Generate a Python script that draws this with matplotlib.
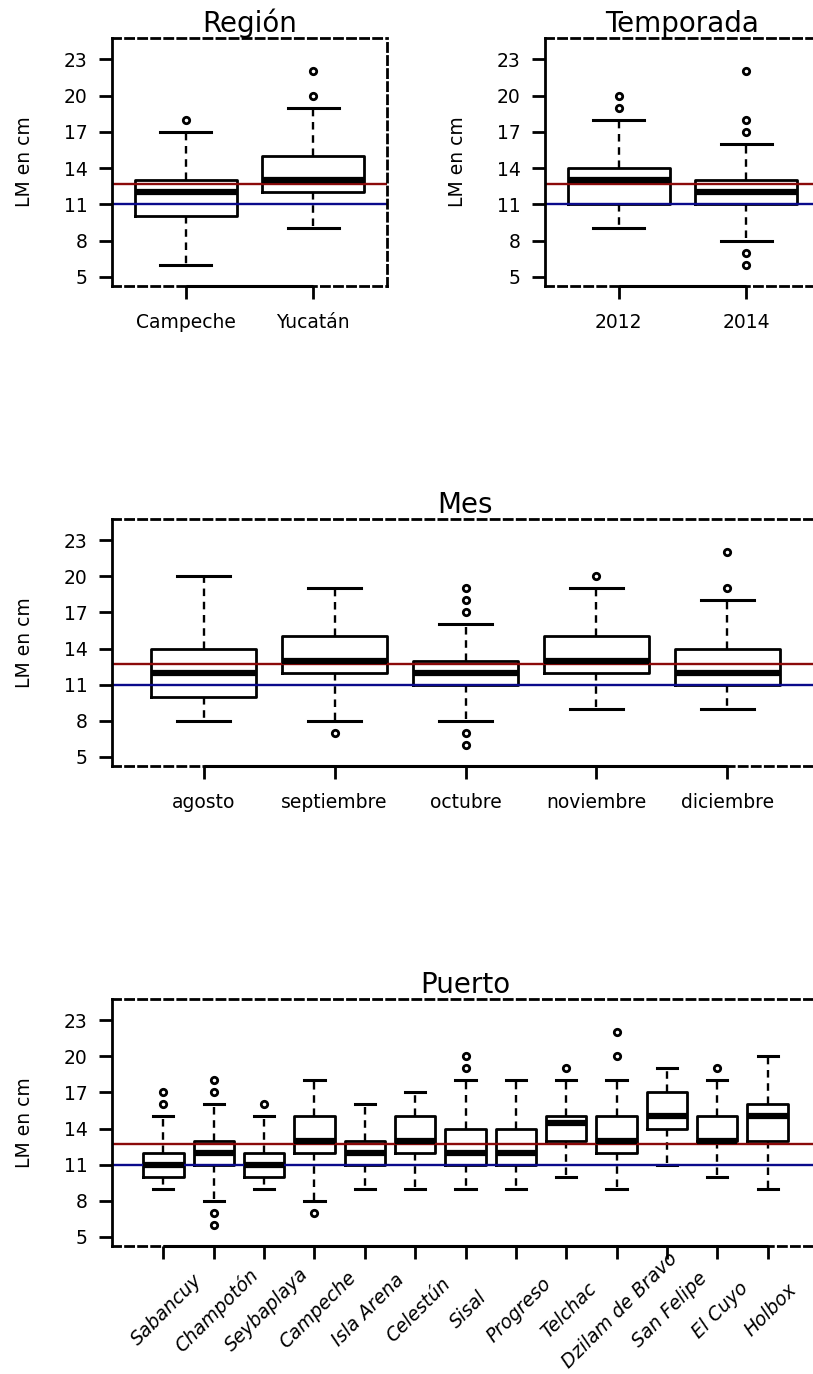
import matplotlib
matplotlib.use('Agg')
import matplotlib.pyplot as plt
import matplotlib.transforms as mtransforms

plt.rcParams['font.family'] = ['DejaVu Sans']

# reference lines (cm)
lm_media = 12.7
lm_minima = 11

region_cats = ['Campeche', 'Yucatán']
region_lo = [6, 9]
region_q1 = [10, 12]
region_med = [12, 13]
region_q3 = [13, 15]
region_hi = [17, 19]
region_out = [[18], [20, 22]]

temp_cats = ['2012', '2014']
temp_lo = [9, 8]
temp_q1 = [11, 11]
temp_med = [13, 12]
temp_q3 = [14, 13]
temp_hi = [18, 16]
temp_out = [[19, 20], [6, 7, 17, 18, 22]]

mes_cats = ['agosto', 'septiembre', 'octubre', 'noviembre', 'diciembre']
mes_lo = [8, 8, 8, 9, 9]
mes_q1 = [10, 12, 11, 12, 11]
mes_med = [12, 13, 12, 13, 12]
mes_q3 = [14, 15, 13, 15, 14]
mes_hi = [20, 19, 16, 19, 18]
mes_out = [[], [7], [6, 7, 17, 18, 19], [20], [19, 22]]

puerto_cats = ['Sabancuy', 'Champotón', 'Seybaplaya', 'Campeche', 'Isla Arena',
               'Celestún', 'Sisal', 'Progreso', 'Telchac', 'Dzilam de Bravo',
               'San Felipe', 'El Cuyo', 'Holbox']
puerto_lo = [9, 8, 9, 8, 9, 9, 9, 9, 10, 9, 11, 10, 9]
puerto_q1 = [10, 11, 10, 12, 11, 12, 11, 11, 13, 12, 14, 13, 13]
puerto_med = [11, 12, 11, 13, 12, 13, 12, 12, 14.5, 13, 15, 13, 15]
puerto_q3 = [12, 13, 12, 15, 13, 15, 14, 14, 15, 15, 17, 15, 16]
puerto_hi = [15, 16, 15, 18, 16, 17, 18, 18, 18, 18, 19, 18, 20]
puerto_out = [[16, 17], [6, 7, 17, 18], [16], [7], [], [], [19, 20], [], [19],
              [20, 22], [], [19], []]

y_ticks = [5, 8, 11, 14, 17, 20, 23]
y_lim = (4.24, 24.76)

W, H = 813, 1374
fig = plt.figure(figsize=(W / 100, H / 100), dpi=100)


def px_axes(left, top, right, bottom):
    return fig.add_axes([left / W, 1 - bottom / H, (right - left) / W, (bottom - top) / H])


def box_stats(lo, q1, med, q3, hi, out):
    return [dict(whislo=a, q1=b, med=c, q3=d, whishi=e, fliers=f)
            for a, b, c, d, e, f in zip(lo, q1, med, q3, hi, out)]


def panel(ax, title, cats, stats, ylab_x, rotated=False):
    n = len(cats)
    pos = list(range(1, n + 1))
    ax.bxp(stats, positions=pos, widths=0.8, capwidths=0.4, manage_ticks=False,
           boxprops=dict(color='black', linewidth=2),
           medianprops=dict(color='black', linewidth=4.5, solid_capstyle='butt'),
           whiskerprops=dict(color='black', linewidth=1.7, linestyle=(0, (3.2, 2.4))),
           capprops=dict(color='black', linewidth=2.2),
           flierprops=dict(marker='o', markersize=4.6, markerfacecolor='white',
                           markeredgecolor='black', markeredgewidth=2))
    ax.axhline(lm_media, color='#8b0a0a', lw=1.7)
    ax.axhline(lm_minima, color='#0a0a8b', lw=1.7)

    ax.set_xlim(0.5 - 0.04 * n, n + 0.5 + 0.04 * n)
    ax.set_ylim(*y_lim)

    for side in ['top', 'right', 'bottom']:
        ax.spines[side].set_linestyle((0, (2.9, 1.8)))
        ax.spines[side].set_linewidth(2)
    ax.spines['left'].set_linewidth(2)
    # solid x axis between the first and last box
    ax.plot([1, n], [y_lim[0], y_lim[0]], color='black', lw=2.2,
            solid_capstyle='butt', clip_on=False, zorder=3)

    ax.set_yticks(y_ticks)
    ax.set_xticks(pos)
    ax.tick_params(axis='both', direction='out', length=9.5, width=2,
                   labelsize=13.5, color='black')
    ax.tick_params(axis='y', pad=8)
    ax.tick_params(axis='x', pad=10)
    if rotated:
        ax.set_xticklabels([''] * n)
        trans = mtransforms.blended_transform_factory(ax.transData, fig.transFigure) + \
            mtransforms.ScaledTranslation(3 / 100, 0, fig.dpi_scale_trans)
        for x, name in zip(pos, cats):
            ax.text(x, 1 - 1310 / H, name, transform=trans, rotation=45,
                    rotation_mode='anchor', ha='center', va='center',
                    style='italic', fontsize=13.5, clip_on=False)
    else:
        ax.set_xticklabels(cats)

    ax.set_title(title, fontsize=20, pad=3.5)
    bb = ax.get_position()
    fig.text(ylab_x / W, bb.y0 + bb.height / 2, 'LM en cm', rotation=90,
             ha='center', va='center', fontsize=13.5)


ax1 = px_axes(112, 38, 387, 286)
panel(ax1, 'Región', region_cats,
      box_stats(region_lo, region_q1, region_med, region_q3, region_hi, region_out), 25)

ax2 = px_axes(545, 38, 820, 286)
panel(ax2, 'Temporada', temp_cats,
      box_stats(temp_lo, temp_q1, temp_med, temp_q3, temp_hi, temp_out), 457)

ax3 = px_axes(112, 519, 819, 766)
panel(ax3, 'Mes', mes_cats,
      box_stats(mes_lo, mes_q1, mes_med, mes_q3, mes_hi, mes_out), 25)

ax4 = px_axes(112, 999, 819, 1246)
panel(ax4, 'Puerto', puerto_cats,
      box_stats(puerto_lo, puerto_q1, puerto_med, puerto_q3, puerto_hi, puerto_out), 25,
      rotated=True)

fig.savefig('out.png', dpi=100)
